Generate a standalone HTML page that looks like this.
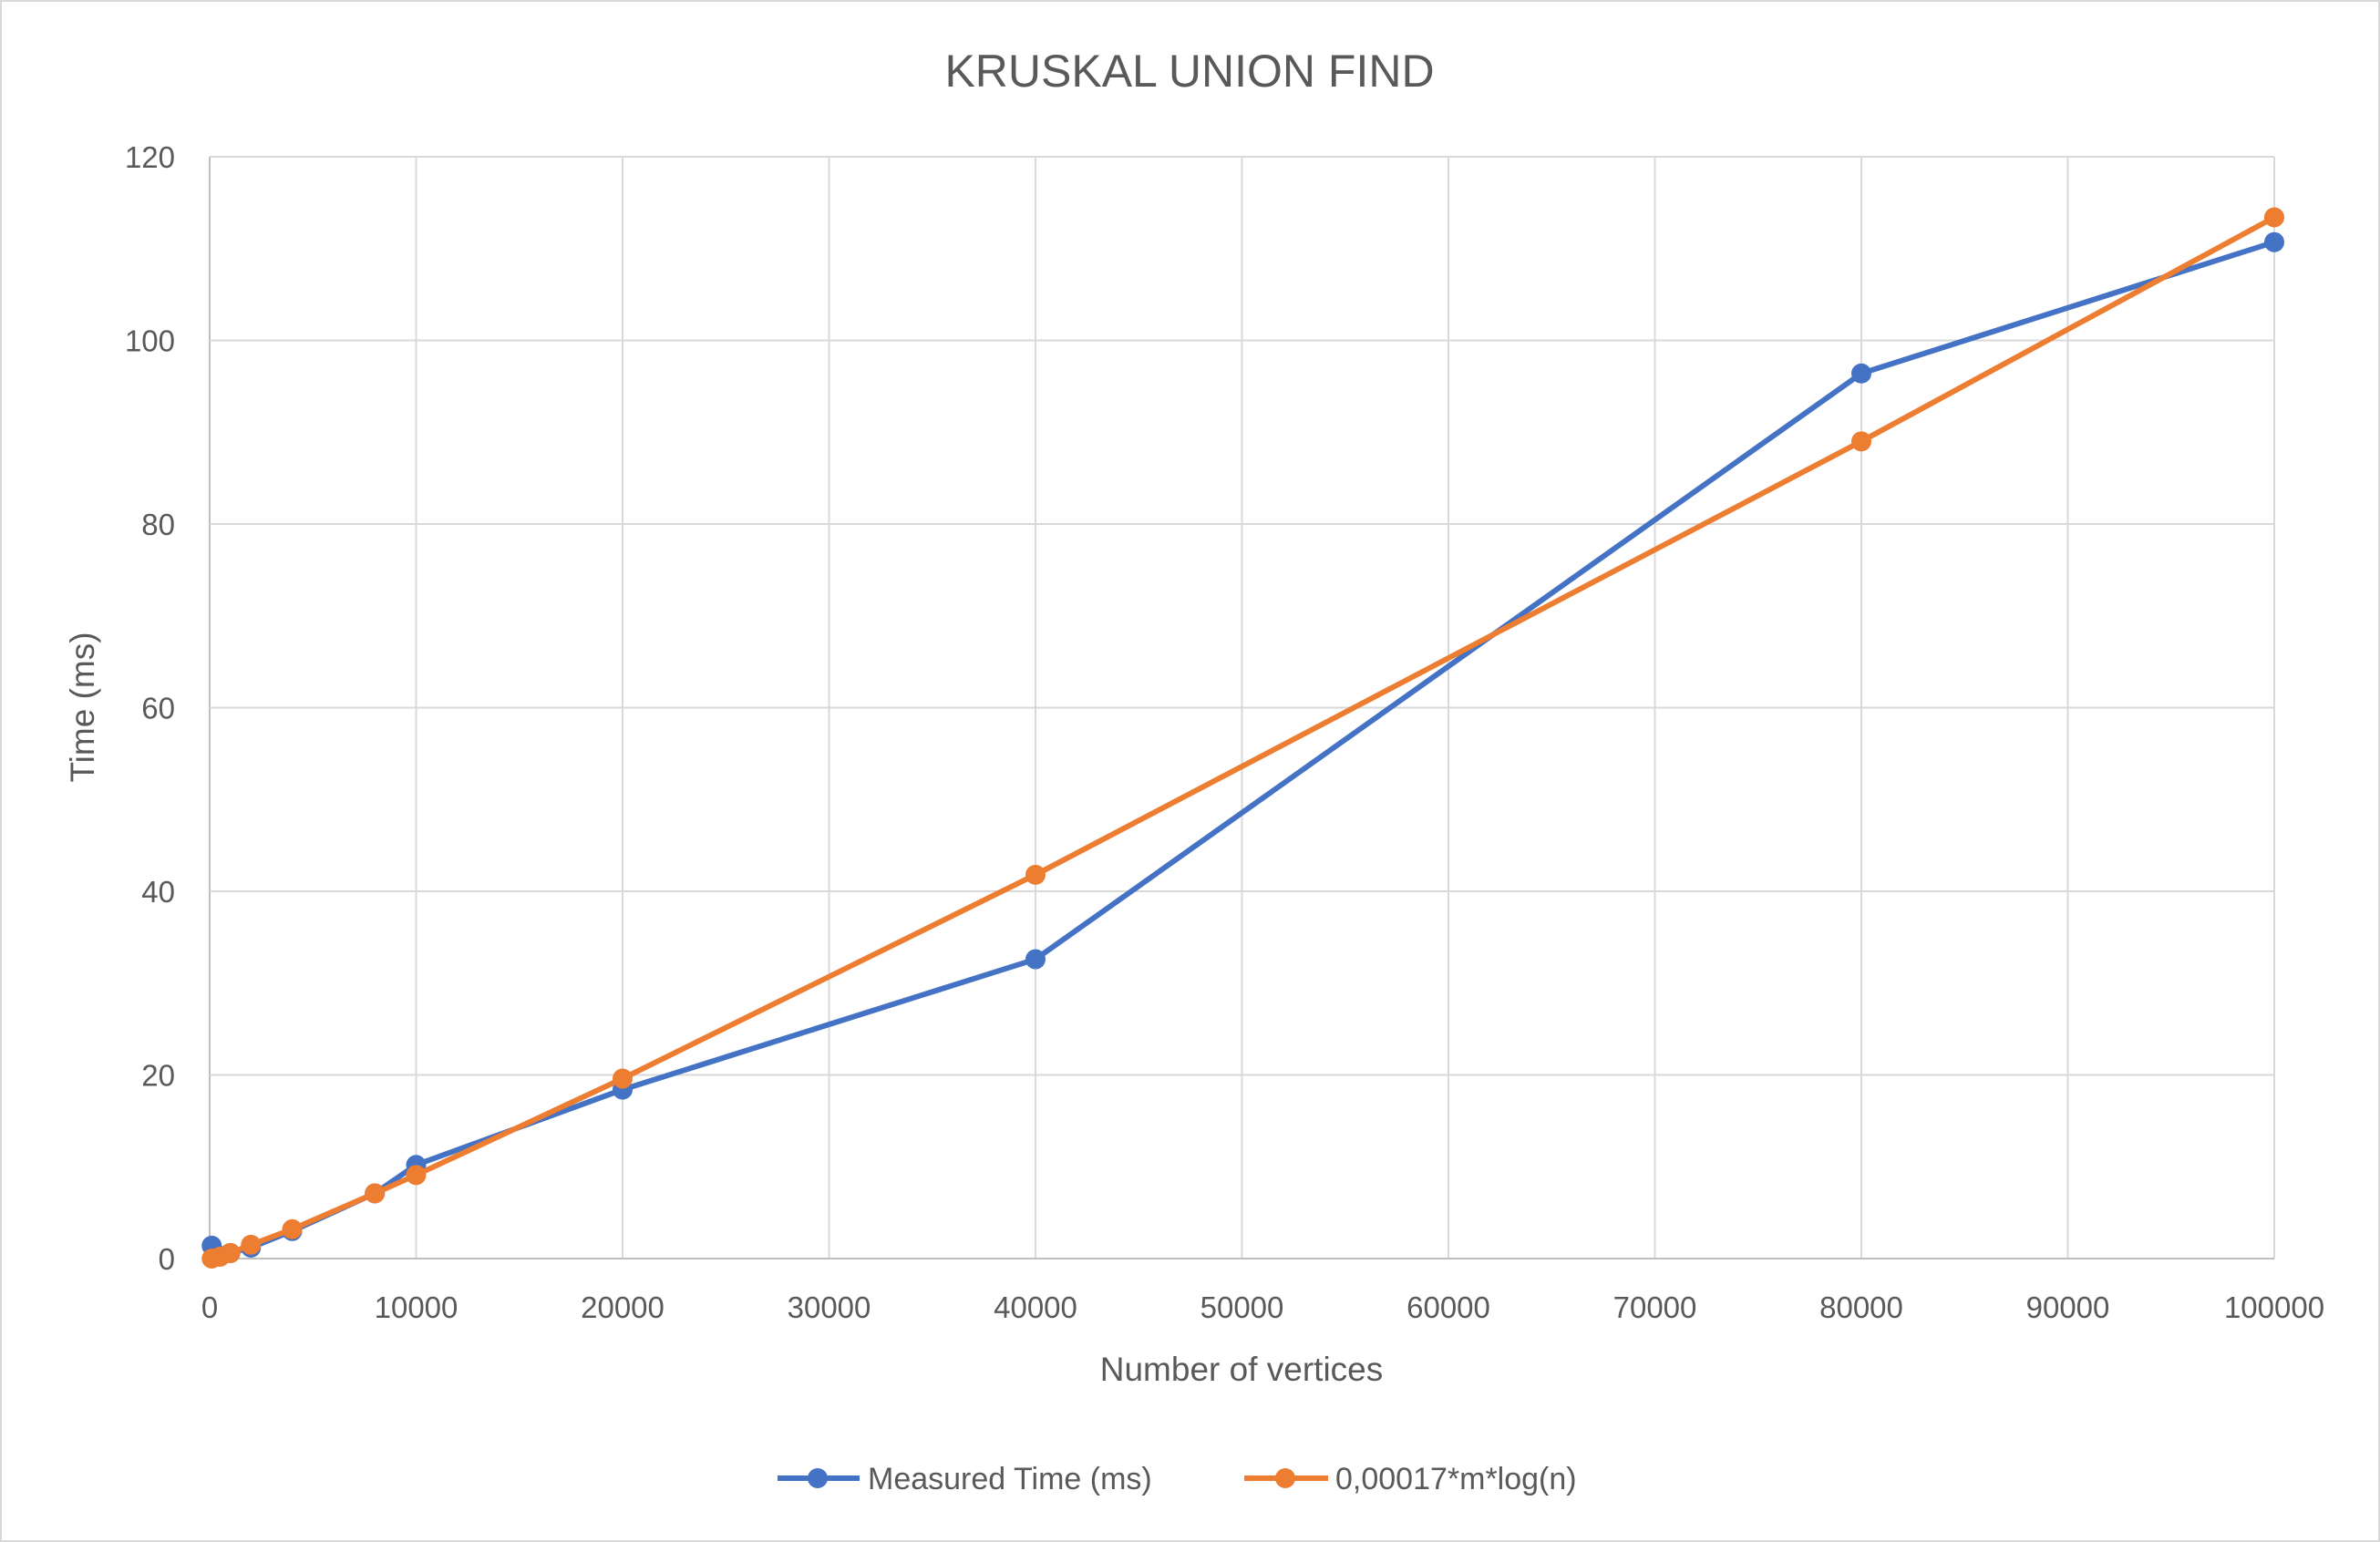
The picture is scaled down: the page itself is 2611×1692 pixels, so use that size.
<!DOCTYPE html>
<html><head><meta charset="utf-8"><style>
body{margin:0;background:#fff}
svg{display:block;font-family:"Liberation Sans",sans-serif}
</style></head><body>
<svg id="c" width="2611" height="1692" viewBox="0 0 2611 1692">
<rect x="1" y="1" width="2609" height="1690" fill="#fff" stroke="#d9d9d9" stroke-width="2"/>
<text x="1305" y="95" font-size="50" fill="#595959" text-anchor="middle">KRUSKAL UNION FIND</text>
<g id="grid"></g><g id="ticks"></g><g id="series"></g>
<text x="1362" y="1515" font-size="37" fill="#595959" text-anchor="middle">Number of vertices</text>
<text transform="translate(103,776) rotate(-90)" font-size="37" fill="#595959" text-anchor="middle">Time (ms)</text>
<g>
<g>
<line x1="853" y1="1622" x2="943" y2="1622" stroke="#4472c4" stroke-width="6"/>
<circle cx="897" cy="1622" r="11" fill="#4472c4"/>
<text x="952" y="1634" font-size="34" fill="#595959">Measured Time (ms)</text></g>
<g>
<line x1="1365" y1="1622" x2="1457" y2="1622" stroke="#ed7d31" stroke-width="6"/>
<circle cx="1410" cy="1622" r="11" fill="#ed7d31"/>
<text x="1465" y="1634" font-size="34" fill="#595959">0,00017*m*log(n)</text></g>
</g>
</svg>
<script>
const xValues=[100,500,1000,2000,4000,8000,10000,20000,40000,80000,100000];
const measured=[1.4,0.3,0.6,1.2,3.0,7.1,10.2,18.4,32.6,96.4,110.7];
const model=[0.0,0.2,0.6,1.5,3.2,7.1,9.1,19.6,41.8,89.0,113.4];
const xTicks=[0,10000,20000,30000,40000,50000,60000,70000,80000,90000,100000];
const yTicks=[0,20,40,60,80,100,120];
const L=230,R=2495,T=172,B=1381;
const sx=v=>L+(v/100000)*(R-L);
const sy=v=>B-(v/120)*(B-T);
const NS="http://www.w3.org/2000/svg";
function mk(tag,attrs,parent){const e=document.createElementNS(NS,tag);for(const k in attrs)e.setAttribute(k,attrs[k]);parent.appendChild(e);return e;}
const grid=document.getElementById('grid'),ticks=document.getElementById('ticks'),ser=document.getElementById('series');
xTicks.forEach(t=>{
 const l=mk('line',{x1:sx(t),x2:sx(t),y1:T,y2:B,stroke:t===0?'#bfbfbf':'#d9d9d9','stroke-width':2},grid);
 
 
 const tx=mk('text',{x:sx(t),y:1446,'font-size':33,fill:'#595959','text-anchor':'middle'},ticks);
 tx.textContent=t;
 
 
});
yTicks.forEach(t=>{
 const l=mk('line',{x1:L,x2:R,y1:sy(t),y2:sy(t),stroke:t===0?'#bfbfbf':'#d9d9d9','stroke-width':2},grid);
 
 
 const tx=mk('text',{x:192,y:sy(t)+12,'font-size':33,fill:'#595959','text-anchor':'end'},ticks);
 tx.textContent=t;
 
 
});
function drawSeries(vals,color,name){
 const g=mk('g',{},ser);
 
 
 const p=mk('polyline',{points:xValues.map((x,i)=>sx(x)+','+sy(vals[i])).join(' '),fill:'none',stroke:color,'stroke-width':6,'stroke-linejoin':'round'},g);
 
 
 xValues.forEach((x,i)=>{
  const c=mk('circle',{cx:sx(x),cy:sy(vals[i]),r:11,fill:color},g);
  
  
 });
}
drawSeries(measured,'#4472c4','measured-series');
drawSeries(model,'#ed7d31','model-series');
</script>
</body></html>
